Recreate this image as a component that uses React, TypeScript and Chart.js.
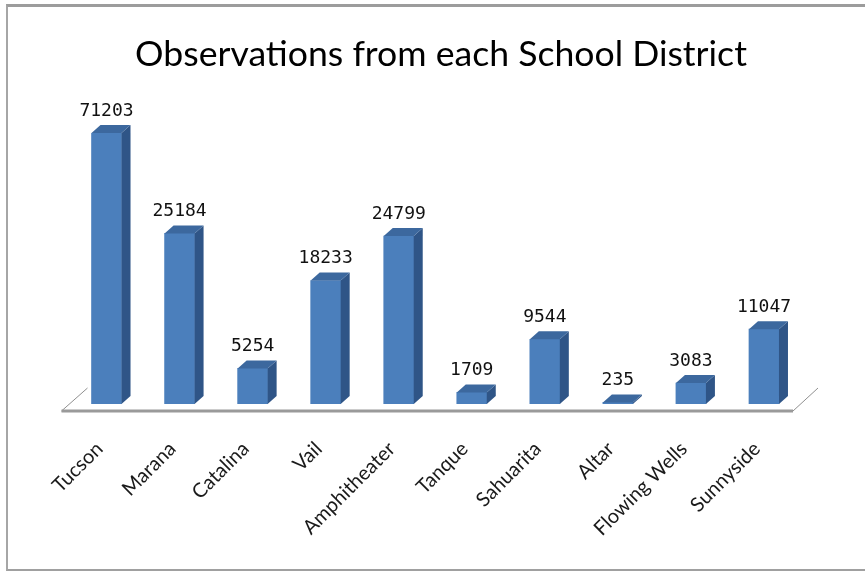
import { useEffect, useRef } from "react";
import { Chart, registerables } from "chart.js";

Chart.register(...registerables);

const districts = [
  "Tucson",
  "Marana",
  "Catalina",
  "Vail",
  "Amphitheater",
  "Tanque",
  "Sahuarita",
  "Altar",
  "Flowing Wells",
  "Sunnyside",
];
const observations = [71203, 25184, 5254, 18233, 24799, 1709, 9544, 235, 3083, 11047];
const chartTitle = "Observations from each School District";
const axisMax = 40000;

const DX = 9;
const DY = 8;

const floorPlugin = {
  id: "floor3d",
  beforeDatasetsDraw(chart: any) {
    const { ctx, chartArea: a } = chart;
    const fl = a.left - 8.5;
    const fr = a.right - 7.5;
    const fy = a.bottom + 7;
    const bx = 26;
    const by = 23;
    ctx.save();
    ctx.strokeStyle = "#8f8f8f";
    ctx.lineWidth = 1;
    ctx.beginPath();
    ctx.moveTo(fl, fy);
    ctx.lineTo(fl + bx, fy - by);
    ctx.stroke();
    ctx.beginPath();
    ctx.moveTo(fr, fy);
    ctx.lineTo(fr + bx - 1, fy - by);
    ctx.stroke();
    ctx.strokeStyle = "#9a9a9a";
    ctx.lineWidth = 3;
    ctx.beginPath();
    ctx.moveTo(fl, fy);
    ctx.lineTo(fr, fy);
    ctx.stroke();
    ctx.restore();
  },
};

const bar3dPlugin = {
  id: "bar3d",
  afterDatasetsDraw(chart: any) {
    const { ctx, chartArea: a } = chart;
    const meta = chart.getDatasetMeta(0);
    ctx.save();
    meta.data.forEach((el: any, i: number) => {
      const { x, y, base, width } = el.getProps(["x", "y", "base", "width"], true);
      const top = Math.max(y, a.top);
      const l = x - width / 2;
      const r = x + width / 2;
      ctx.fillStyle = "#2f5587";
      ctx.beginPath();
      ctx.moveTo(r, base);
      ctx.lineTo(r, top);
      ctx.lineTo(r + DX, top - DY);
      ctx.lineTo(r + DX, base - DY);
      ctx.closePath();
      ctx.fill();
      ctx.fillStyle = "#3c689e";
      ctx.beginPath();
      ctx.moveTo(l, top);
      ctx.lineTo(r, top);
      ctx.lineTo(r + DX, top - DY);
      ctx.lineTo(l + DX, top - DY);
      ctx.closePath();
      ctx.fill();
      ctx.fillStyle = "#111111";
      ctx.font = "18px 'DejaVu Sans Mono'";
      ctx.textAlign = "center";
      ctx.textBaseline = "alphabetic";
      ctx.fillText(String(observations[i]), x, top - 17);
    });
    ctx.restore();
  },
};

const titlePlugin = {
  id: "customTitle",
  afterDraw(chart: any) {
    const { ctx } = chart;
    ctx.save();
    let size = 33;
    ctx.font = `${size}px Lato`;
    const w = ctx.measureText(chartTitle).width;
    size = (size * 612) / w;
    ctx.font = `${size}px Lato`;
    ctx.fillStyle = "#000000";
    ctx.textAlign = "center";
    ctx.textBaseline = "alphabetic";
    ctx.fillText(chartTitle, 441, 66);
    ctx.restore();
  },
};

export default function App() {
  const ref = useRef<HTMLCanvasElement>(null);
  useEffect(() => {
    const chart = new Chart(ref.current as HTMLCanvasElement, {
      type: "bar",
      data: {
        labels: districts,
        datasets: [
          {
            data: observations,
            backgroundColor: "#4b7fbc",
            barThickness: 30,
            clip: 0,
          } as any,
        ],
      },
      options: {
        animation: false,
        responsive: false,
        maintainAspectRatio: false,
        layout: { padding: { top: 133, left: 70, right: 64.5, bottom: 0 } },
        plugins: {
          legend: { display: false },
          tooltip: { enabled: false },
          title: { display: false },
        },
        scales: {
          x: {
            grid: { display: false, drawTicks: false },
            border: { display: false },
            ticks: {
              maxRotation: 45,
              minRotation: 45,
              padding: 33,
              labelOffset: -7,
              color: "#1a1a1a",
              font: { family: "Lato", size: 20 },
              autoSkip: false,
            },
            afterFit: (s: any) => {
              s.height = 168;
            },
          },
          y: { display: false, min: 0, max: axisMax },
        },
      } as any,
      plugins: [floorPlugin, bar3dPlugin, titlePlugin],
    });
    return () => chart.destroy();
  }, []);
  return (
    <div style={{ position: "fixed", left: 0, top: 0, width: 865, height: 572, background: "#ffffff", overflow: "hidden" }}>
      <div
        style={{
          position: "absolute",
          left: 6,
          top: 4,
          right: -10,
          bottom: 1,
          borderTop: "3px solid #9c9c9c",
          borderLeft: "2px solid #a6a6a6",
          borderBottom: "2px solid #a0a0a0",
        }}
      />
      <canvas ref={ref} width={865} height={572} style={{ position: "absolute", left: 0, top: 0 }} />
    </div>
  );
}
